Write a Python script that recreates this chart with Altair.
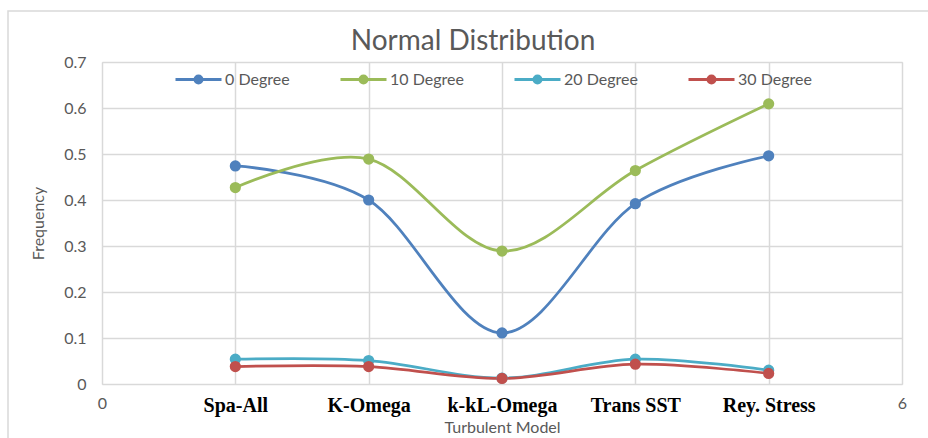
import altair as alt
import pandas as pd

# Turbulence models along the x axis (placed at positions 1..5)
models = ["Spa-All", "K-Omega", "k-kL-Omega", "Trans SST", "Rey. Stress"]
positions = [1, 2, 3, 4, 5]

# Frequency per model for each angle
series_names = ["0 Degree", "10 Degree", "20 Degree", "30 Degree"]
deg0 = [0.474, 0.400, 0.111, 0.392, 0.496]
deg10 = [0.427, 0.489, 0.289, 0.464, 0.609]
deg20 = [0.054, 0.051, 0.013, 0.054, 0.030]
deg30 = [0.038, 0.038, 0.012, 0.043, 0.023]
series_colors = ["#4F81BD", "#9BBB59", "#4BACC6", "#C0504D"]

rows = []
for name, vals in zip(series_names, [deg0, deg10, deg20, deg30]):
    for p, m, v in zip(positions, models, vals):
        rows.append({"pos": p, "model": m, "series": name, "freq": v})
df = pd.DataFrame(rows)

GRID = "#d9d9d9"
TEXT = "#595959"
SANS = "Lato"

color_scale = alt.Scale(domain=series_names, range=series_colors)

# Legend symbol: short line with a dot in the middle
legend_symbol = (
    "M-1,0L1,0"
    "M-0.15,0A0.15,0.15,0,1,0,0.15,0A0.15,0.15,0,1,0,-0.15,0Z"
)
legend = alt.Legend(
    title=None,
    orient="none",
    legendX=72,
    legendY=-7,
    direction="horizontal",
    columns=4,
    symbolType=legend_symbol,
    symbolSize=2116,
    symbolStrokeWidth=3,
    labelFont=SANS,
    labelFontSize=16,
    labelColor=TEXT,
    labelOffset=2,
    columnPadding=44,
)

label_expr = (
    "datum.value == 0 ? '0' : datum.value == 6 ? '6' : "
    "['" + "','".join(models) + "'][datum.value - 1]"
)
end_test = "datum.value == 0 || datum.value == 6"

x = alt.X(
    "pos:Q",
    scale=alt.Scale(domain=[0, 6], nice=False, zero=False),
    axis=alt.Axis(
        values=[0, 1, 2, 3, 4, 5, 6],
        labelExpr=label_expr,
        title="Turbulent Model",
        titleFont=SANS,
        titleFontSize=16,
        titleFontWeight="normal",
        titleColor=TEXT,
        titlePadding=4,
        labelFont={"condition": {"test": end_test, "value": SANS}, "value": "Liberation Serif"},
        labelFontWeight={"condition": {"test": end_test, "value": "normal"}, "value": "bold"},
        labelColor={"condition": {"test": end_test, "value": TEXT}, "value": "#000000"},
        labelFontSize={"condition": {"test": end_test, "value": 16}, "value": 20},
        labelPadding=11,
        labelBaseline="top",
        labelFlush=False,
        domain=False,
        ticks=False,
        grid=True,
        gridColor=GRID,
        gridWidth=1.5,
    ),
)
y = alt.Y(
    "freq:Q",
    scale=alt.Scale(domain=[0, 0.7], nice=False),
    axis=alt.Axis(
        values=[0, 0.1, 0.2, 0.3, 0.4, 0.5, 0.6, 0.7],
        format=".1~f",
        title="Frequency",
        titleFont=SANS,
        titleFontSize=16,
        titleFontWeight="normal",
        titleColor=TEXT,
        titlePadding=17,
        labelFont=SANS,
        labelFontSize=16,
        labelColor=TEXT,
        labelPadding=16,
        domain=False,
        ticks=False,
        grid=True,
        gridColor=GRID,
        gridWidth=1.5,
    ),
)

base = alt.Chart(df)

lines = base.mark_line(interpolate="cardinal", strokeWidth=2.75).encode(
    x=x,
    y=y,
    stroke=alt.Stroke("series:N", scale=color_scale, legend=legend, sort=series_names),
    detail="series:N",
)

points = base.mark_point(filled=True, size=85, opacity=1, shape="circle").encode(
    x=x,
    y=y,
    stroke=alt.Stroke("series:N", scale=color_scale, legend=legend, sort=series_names),
    fill=alt.Fill("series:N", scale=color_scale, legend=legend, sort=series_names),
)

# Light frame around the whole chart area
frame = alt.Chart(pd.DataFrame({"k": [0]})).mark_rect(
    filled=False, stroke=GRID, strokeWidth=1.5
).encode(
    x=alt.value(-94),
    x2=alt.value(880),
    y=alt.value(-51),
    y2=alt.value(420),
)

chart = (
    alt.layer(frame, lines, points)
    .properties(
        width=800,
        height=322,
        title=alt.TitleParams(
            "Normal Distribution",
            font=SANS,
            fontSize=28,
            fontWeight="normal",
            color=TEXT,
            anchor="middle",
            frame="group",
            dx=-29,
            offset=-46,
        ),
        autosize=alt.AutoSizeParams(type="none"),
        padding={"left": 102, "top": 62, "right": 26, "bottom": 54},
    )
    .configure_view(stroke=GRID, strokeWidth=1.5)
    .configure(background="white")
)

chart.save("out.html", embed_options={"renderer": "svg", "actions": False})
